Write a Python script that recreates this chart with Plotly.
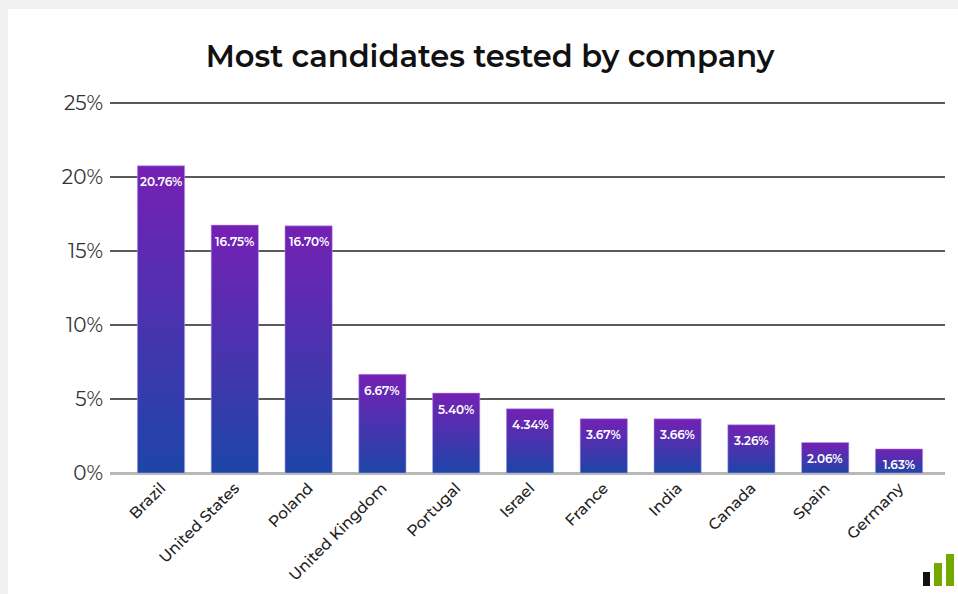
import plotly.graph_objects as go

# Share of candidates tested, by company country
countries = ["Brazil", "United States", "Poland", "United Kingdom", "Portugal",
             "Israel", "France", "India", "Canada", "Spain", "Germany"]
shares = [20.76, 16.75, 16.70, 6.67, 5.40, 4.34, 3.67, 3.66, 3.26, 2.06, 1.63]
y_ticks = [0, 5, 10, 15, 20, 25]
y_tick_text = ["0%", "5%", "10%", "15%", "20%", "25%"]

W, H = 958, 594
ML, MR, MT, MB = 110, 13, 102, 121
BAR_HALF = 0.32
FONT = "Montserrat, Inter, 'Open Sans', sans-serif"

fig = go.Figure()

# Each bar is a filled polygon so it can carry a vertical purple-to-blue gradient
for i, (name, v) in enumerate(zip(countries, shares)):
    fig.add_trace(go.Scatter(
        x=[i - BAR_HALF, i + BAR_HALF, i + BAR_HALF, i - BAR_HALF, i - BAR_HALF],
        y=[0, 0, v, v, 0],
        mode="lines",
        fill="toself",
        fillgradient=dict(type="vertical",
                          colorscale=[[0, "#1d45a8"], [0.5, "#4a33ae"], [1, "#7520b4"]]),
        line=dict(color="rgba(175,160,235,0.7)", width=0.8),
        hoverinfo="text",
        text=f"{name}: {v:.2f}%",
        showlegend=False,
    ))

# Value labels just inside the top of each bar
for i, v in enumerate(shares):
    fig.add_annotation(
        x=i, y=v, text=f"{v:.2f}%", showarrow=False,
        yanchor="middle", yshift=-16,
        font=dict(family=FONT, size=12, color="white", weight=600),
    )


def px_x(px):
    return (px - ML) / (W - ML - MR)


def px_y(py):
    return (H - MB - py) / (H - MT - MB)


# Light grey frame along the top and left edges
fig.add_shape(type="rect", xref="paper", yref="paper",
              x0=px_x(0), x1=px_x(W), y0=px_y(0), y1=px_y(9),
              fillcolor="#f1f1f1", line_width=0, layer="below")
fig.add_shape(type="rect", xref="paper", yref="paper",
              x0=px_x(0), x1=px_x(8), y0=px_y(0), y1=px_y(H),
              fillcolor="#f1f1f1", line_width=0, layer="below")

# Small logo mark in the bottom-right corner
for (x0, x1, y0, col) in [(923, 930, 572, "#111111"),
                          (934, 942, 563, "#74a700"),
                          (946, 954, 554, "#74a700")]:
    fig.add_shape(type="rect", xref="paper", yref="paper",
                  x0=px_x(x0), x1=px_x(x1), y0=px_y(586), y1=px_y(y0),
                  fillcolor=col, line_width=0)

fig.update_layout(
    width=W, height=H,
    margin=dict(l=ML, r=MR, t=MT, b=MB, autoexpand=False),
    paper_bgcolor="white", plot_bgcolor="white",
    title=dict(text="Most candidates tested by company",
               x=490 / W, xanchor="center", xref="container",
               y=1 - 56 / H, yanchor="middle", yref="container",
               font=dict(family=FONT, size=30.5, color="#111111", weight=600)),
    xaxis=dict(
        range=[-0.691, 10.623],
        tickmode="array", tickvals=list(range(len(countries))), ticktext=countries,
        tickangle=-45, showgrid=False, zeroline=False, showline=False,
        tickfont=dict(family=FONT, size=15.5, color="#222222", weight=500),
        ticklabelstandoff=2, automargin=False,
        fixedrange=True,
    ),
    yaxis=dict(
        range=[0, 25.07],
        tickmode="array", tickvals=y_ticks, ticktext=y_tick_text,
        showgrid=True, gridcolor="#5a5a5a", gridwidth=1.5,
        zeroline=True, zerolinecolor="#b8b8b8", zerolinewidth=2.5,
        showline=False, ticklabelstandoff=6, automargin=False,
        tickfont=dict(family=FONT, size=20, color="#333333", weight=400),
        fixedrange=True,
    ),
)

fig.write_html("out.html")
